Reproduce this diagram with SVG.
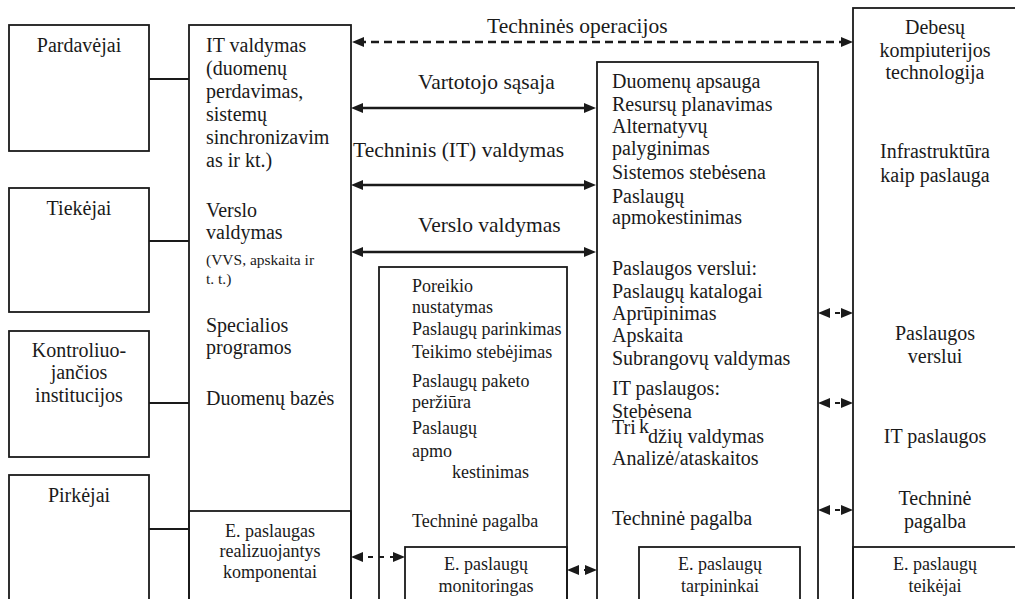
<svg xmlns="http://www.w3.org/2000/svg" width="1015" height="599" viewBox="0 0 1015 599" font-family="Liberation Serif, serif" fill="#1a1a1a">
<defs>
<marker id="ah" viewBox="0 0 12 10" refX="6" refY="5" markerWidth="12" markerHeight="10" markerUnits="userSpaceOnUse" orient="auto-start-reverse">
<path d="M0,0 L12,5 L0,10 z" fill="#1a1a1a"/>
</marker>
</defs>
<style>
.box{fill:none;stroke:#1a1a1a;stroke-width:1.8}
.ln{fill:none;stroke:#1a1a1a;stroke-width:1.8}
.ar{fill:none;stroke:#1a1a1a;stroke-width:2.6;marker-start:url(#ah);marker-end:url(#ah)}
.da{fill:none;stroke:#1a1a1a;stroke-width:2.4;stroke-dasharray:8 5;marker-start:url(#ah);marker-end:url(#ah)}
.sa{fill:none;stroke:#1a1a1a;stroke-width:2.2;stroke-dasharray:5 6;marker-start:url(#ah);marker-end:url(#ah)}
</style>
<rect x="0" y="0" width="1015" height="599" fill="#fff"/>

<g id="nodes" font-family="Liberation Serif, serif" font-size="20">
<g id="pardavejai" text-anchor="middle">
<rect class="box" x="9" y="25" width="140" height="126"/>
<text x="79" y="52">Pardavėjai</text>
</g>
<g id="tiekejai" text-anchor="middle">
<rect class="box" x="9" y="188" width="140" height="124"/>
<text x="79" y="215">Tiekėjai</text>
</g>
<g id="kontroliuojancios" text-anchor="middle">
<rect class="box" x="9" y="331" width="140" height="126"/>
<text x="79" y="357">Kontroliuo-</text>
<text x="79" y="379">jančios</text>
<text x="79" y="402">institucijos</text>
</g>
<g id="pirkejai" text-anchor="middle">
<rect class="box" x="9" y="475" width="140" height="140"/>
<text x="79" y="502">Pirkėjai</text>
</g>

<g id="it-valdymas">
<rect class="box" x="189" y="25" width="162" height="590"/>
<text x="206" y="52">IT valdymas</text>
<text x="206" y="75">(duomenų</text>
<text x="206" y="98">perdavimas,</text>
<text x="206" y="121">sistemų</text>
<text x="206" y="144">sinchronizavim</text>
<text x="206" y="167">as ir kt.)</text>
<text x="206" y="217">Verslo</text>
<text x="206" y="239">valdymas</text>
<text x="206" y="265" font-size="15.5">(VVS, apskaita ir</text>
<text x="206" y="284" font-size="15.5">t. t.)</text>
<text x="206" y="332">Specialios</text>
<text x="206" y="354">programos</text>
<text x="206" y="405">Duomenų bazės</text>
</g>
<g id="e-paslaugas-komponentai" text-anchor="middle" font-size="18">
<rect class="box" x="189" y="511" width="162" height="104"/>
<text x="270" y="537">E. paslaugas</text>
<text x="270" y="557">realizuojantys</text>
<text x="270" y="578">komponentai</text>
</g>

<g id="poreikio" font-size="18">
<rect class="box" x="379" y="267" width="188" height="348"/>
<text x="412" y="292">Poreikio</text>
<text x="412" y="313">nustatymas</text>
<text x="412" y="335">Paslaugų parinkimas</text>
<text x="412" y="358">Teikimo stebėjimas</text>
<text x="412" y="387">Paslaugų paketo</text>
<text x="412" y="408">peržiūra</text>
<text x="412" y="434">Paslaugų</text>
<text x="412" y="457">apmo</text>
<text x="452" y="478">kestinimas</text>
<text x="412" y="527">Techninė pagalba</text>
</g>
<g id="e-paslaugu-monitoringas" text-anchor="middle" font-size="18">
<rect class="box" x="405" y="547" width="162" height="68"/>
<text x="486" y="570">E. paslaugų</text>
<text x="486" y="592">monitoringas</text>
</g>

<g id="duomenu-apsauga">
<rect class="box" x="597" y="62" width="221" height="553"/>
<text x="612" y="88">Duomenų apsauga</text>
<text x="612" y="111">Resursų planavimas</text>
<text x="612" y="133">Alternatyvų</text>
<text x="612" y="155">palyginimas</text>
<text x="612" y="179">Sistemos stebėsena</text>
<text x="612" y="203">Paslaugų</text>
<text x="612" y="224">apmokestinimas</text>
<text x="612" y="275">Paslaugos verslui:</text>
<text x="612" y="298">Paslaugų katalogai</text>
<text x="612" y="320">Aprūpinimas</text>
<text x="612" y="342">Apskaita</text>
<text x="612" y="365">Subrangovų valdymas</text>
<text x="612" y="395">IT paslaugos:</text>
<text x="612" y="418">Stebėsena</text>
<text x="612" y="434">Tri</text>
<text x="639" y="433">k</text>
<text x="648" y="443">džių valdymas</text>
<text x="612" y="465">Analizė/ataskaitos</text>
<text x="612" y="525">Techninė pagalba</text>
</g>
<g id="e-paslaugu-tarpininkai" text-anchor="middle" font-size="18">
<rect class="box" x="639" y="547" width="161" height="68"/>
<text x="720" y="570">E. paslaugų</text>
<text x="720" y="592">tarpininkai</text>
</g>

<g id="debesu" text-anchor="middle">
<rect class="box" x="853" y="8" width="180" height="607"/>
<text x="935" y="34">Debesų</text>
<text x="935" y="57">kompiuterijos</text>
<text x="935" y="79">technologija</text>
<text x="935" y="158">Infrastruktūra</text>
<text x="935" y="182">kaip paslauga</text>
<text x="935" y="340">Paslaugos</text>
<text x="935" y="363">verslui</text>
<text x="935" y="443">IT paslaugos</text>
<text x="935" y="505">Techninė</text>
<text x="935" y="528">pagalba</text>
</g>
<g id="e-paslaugu-teikejai" text-anchor="middle" font-size="18">
<rect class="box" x="853" y="547" width="180" height="68"/>
<text x="935" y="570">E. paslaugų</text>
<text x="935" y="592">teikėjai</text>
</g>
</g>

<g id="connectors" font-family="Liberation Serif, serif" font-size="21.5">
<line class="ln" x1="149" y1="79" x2="189" y2="79"/>
<line class="ln" x1="149" y1="241" x2="189" y2="241"/>
<line class="ln" x1="149" y1="403" x2="189" y2="403"/>
<line class="ln" x1="149" y1="529" x2="189" y2="529"/>
<line class="da" x1="358" y1="42" x2="847" y2="42"/>
<line class="ar" x1="357" y1="108" x2="590" y2="108"/>
<line class="ar" x1="357" y1="185" x2="590" y2="185"/>
<line class="ar" x1="357" y1="252" x2="590" y2="252"/>
<line class="sa" x1="824" y1="313" x2="847" y2="313"/>
<line class="sa" x1="824" y1="403" x2="847" y2="403"/>
<line class="sa" x1="824" y1="510" x2="847" y2="510"/>
<line class="sa" x1="573" y1="570" x2="591" y2="570"/>
<line class="sa" x1="357" y1="557" x2="399" y2="557"/>
<text x="487" y="33">Techninės operacijos</text>
<text x="418" y="89">Vartotojo sąsaja</text>
<text x="353" y="157">Techninis (IT) valdymas</text>
<text x="418" y="232">Verslo valdymas</text>
</g>
</svg>
